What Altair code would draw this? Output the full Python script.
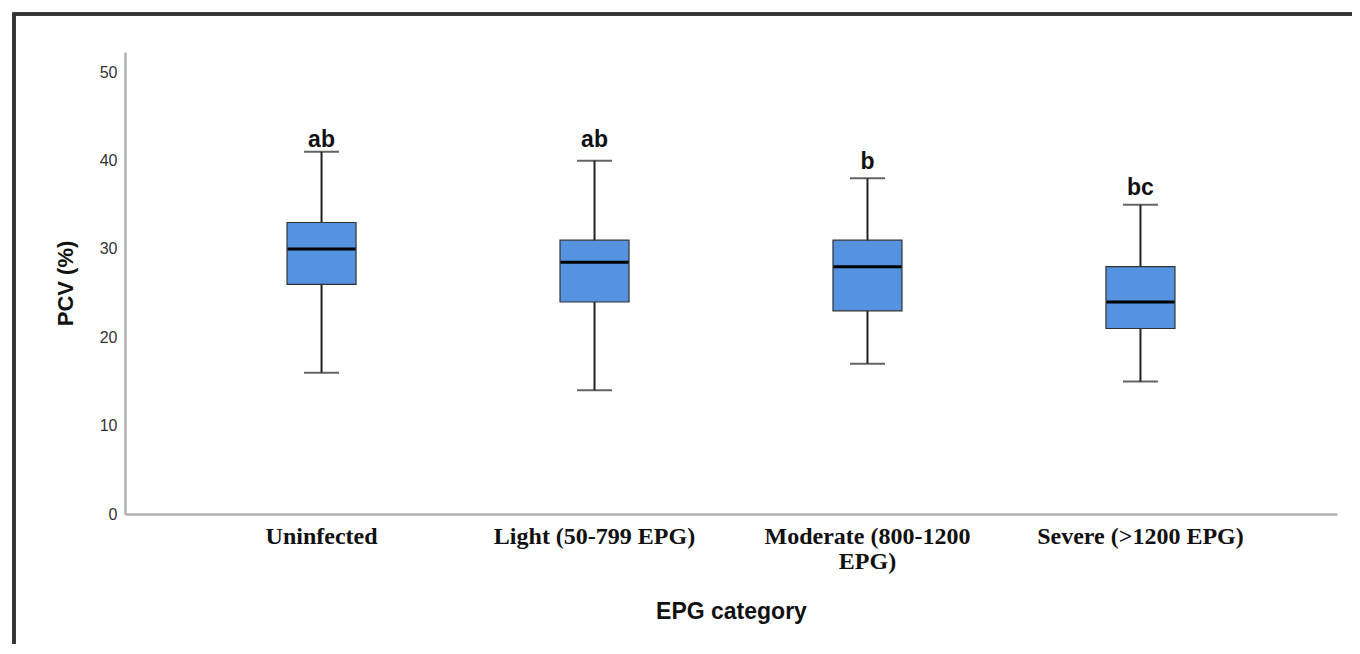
import altair as alt
import pandas as pd

categories = ["Uninfected", "Light (50-799 EPG)", "Moderate (800-1200 EPG)", "Severe (>1200 EPG)"]
whisker_low = [16, 14, 17, 15]
q1 = [26, 24, 23, 21]
median = [30, 28.5, 28, 24]
q3 = [33, 31, 31, 28]
whisker_high = [41, 40, 38, 35]
letters = ["ab", "ab", "b", "bc"]
letter_y = [41.5, 41.5, 39.1, 36.1]
y_ticks = [0, 10, 20, 30, 40, 50]

df = pd.DataFrame({
    "cat": categories, "low": whisker_low, "q1": q1, "med": median,
    "q3": q3, "high": whisker_high, "letter": letters, "ly": letter_y,
})

xscale = alt.Scale(domain=categories, paddingInner=0, paddingOuter=0.22)
xenc = alt.X(
    "cat:N", sort=categories, title="EPG category", scale=xscale,
    axis=alt.Axis(
        labelAngle=0, ticks=False, labelPadding=10, labelLimit=0,
        labelFont="Liberation Serif", labelFontWeight="bold", labelFontSize=24,
        labelColor="#111", labelLineHeight=25,
        labelExpr="datum.label == 'Moderate (800-1200 EPG)' ? ['Moderate (800-1200', 'EPG)'] : datum.label",
        domainColor="#b0b0b0", domainWidth=2.5, grid=False,
        titleFont="Liberation Sans", titleFontSize=23, titleFontWeight="bold",
        titleColor="#111", titlePadding=27,
    ),
)
xs = alt.X("cat:N", sort=categories, scale=xscale)
yscale = alt.Scale(domain=[0, 52.3], nice=False)
yaxis = alt.Axis(
    values=y_ticks, ticks=False, grid=False, labelPadding=8,
    labelFont="Liberation Sans", labelFontSize=16, labelColor="#333",
    domainColor="#b0b0b0", domainWidth=2.5,
    title="PCV (%)", titleFont="Liberation Sans", titleFontSize=22,
    titleFontWeight="bold", titleColor="#111", titlePadding=22,
)

base = alt.Chart(df)

frame = base.mark_rect(fill="transparent", stroke="#333", strokeWidth=3).encode(
    x=alt.value(-111), x2=alt.value(1400), y=alt.value(-38), y2=alt.value(800)
)

whisk = base.mark_rule(color="#222", strokeWidth=2).encode(
    x=xenc, y=alt.Y("low:Q", scale=yscale, axis=yaxis), y2="high:Q"
)
caps_hi = base.mark_tick(color="#222", size=35, thickness=2).encode(x=xs, y="high:Q")
caps_lo = base.mark_tick(color="#222", size=35, thickness=2).encode(x=xs, y="low:Q")
box = base.mark_bar(size=69, color="#5592E0", stroke="#333", strokeWidth=1.2).encode(
    x=xs, y="q1:Q", y2="q3:Q"
)
med = base.mark_tick(color="#000", size=68, thickness=3, opacity=1).encode(x=xs, y="med:Q")
txt = base.mark_text(
    font="Liberation Sans", fontSize=23, fontWeight="bold", color="#111", baseline="alphabetic"
).encode(x=xs, y="ly:Q", text="letter:N")

chart = alt.layer(whisk, caps_hi, caps_lo, box, med, txt, frame).properties(
    width=1212, height=462, background="white",
    autosize=alt.AutoSizeParams(type="none"),
    padding={"left": 117, "top": 44, "right": 15, "bottom": 130},
).configure_view(strokeWidth=0, stroke="transparent").configure_axis(grid=False)

chart.save("out.html", embed_options={"renderer": "svg", "actions": False})
